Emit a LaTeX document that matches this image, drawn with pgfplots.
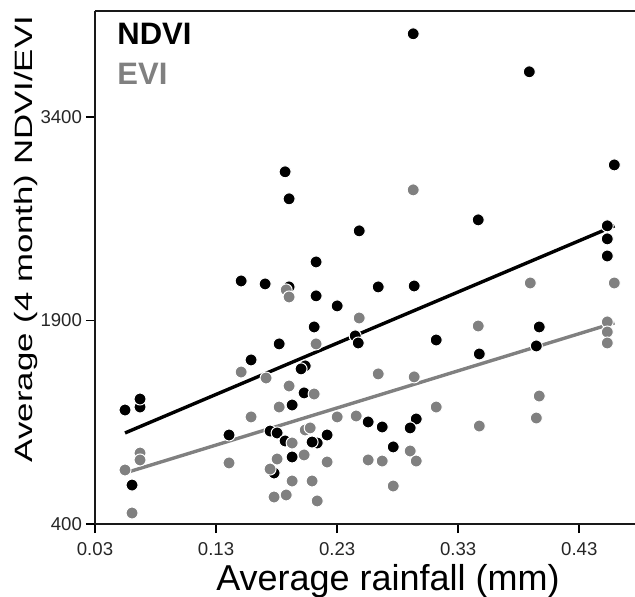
\documentclass[border=0pt]{standalone}
\usepackage{pgfplots}
\pgfplotsset{compat=1.18}
\usepackage{fontspec}
\setmainfont{Liberation Sans}
\definecolor{evigray}{RGB}{128,128,128}

\begin{document}
\begin{tikzpicture}
  \useasboundingbox (-47.5pt,-36pt) rectangle (270pt,262pt);
  \begin{axis}[
      scale only axis,
      width=270pt, height=256.5pt,
      xmin=0.03, xmax=0.476,
      ymin=400, ymax=4180,
      axis x line=box, axis y line=left,
      axis line style={-, line width=1pt, black!90},
      xtick pos=bottom, ytick pos=left,
      tick align=outside,
      major tick length=4.5pt,
      major tick style={black, line width=0.9pt},
      xtick={0.03,0.13,0.23,0.33,0.43},
      xticklabels={0.03,0.13,0.23,0.33,0.43},
      ytick={400,1900,3400},
      /pgf/number format/1000 sep={},
      /pgf/number format/assume math mode=true,
      tick label style={font=\fontsize{9.3}{10}\selectfont, text=black!85},
      yticklabel style={xshift=1.5pt},
      xticklabel style={yshift=-1pt},
      xlabel={Average rainfall (mm)},
      ylabel={Average (4 month) NDVI/EVI},
      xlabel style={font=\fontsize{18}{21}\selectfont,
        at={(axis description cs:0.5426,-0.1287)}, anchor=base},
      ylabel style={font=\fontsize{17.4}{21}\selectfont,
        at={(axis description cs:-0.127,0.5556)}, anchor=center, yscale=0.72},
      clip=false,
    ]
    % NDVI
    \addplot[only marks, mark=*, mark size=3pt,
      mark options={fill=black, draw=white, line width=0.5pt}] coordinates {
      (0.187,2995) (0.1903,2796) (0.2482,2560) (0.2126,2331) (0.1507,2191)
      (0.1705,2169) (0.1903,2147) (0.2126,2081) (0.2300,2007) (0.2110,1852)
      (0.2449,1786) (0.2474,1734) (0.1821,1727) (0.1589,1609) (0.2036,1565)
      (0.2002,1543) (0.2027,1366) (0.1928,1277) (0.0548,1240) (0.0672,1262)
      (0.0672,1321) (0.1407,1056) (0.1746,1085) (0.1804,1071) (0.1870,1012)
      (0.2217,1056) (0.2135,997) (0.2093,1004) (0.0606,687) (0.1928,894)
      (0.1779,776) (0.2928,4012) (0.3887,3732) (0.4589,3046) (0.3465,2641)
      (0.4531,2597) (0.4531,2501) (0.4531,2375) (0.2639,2147) (0.2936,2154)
      (0.3118,1756) (0.3969,1852) (0.3945,1712) (0.3474,1653) (0.2556,1152)
      (0.2672,1115) (0.2953,1174) (0.2903,1108) (0.2763,968)
    };
    % EVI
    \addplot[only marks, mark=*, mark size=3pt,
      mark options={fill=evigray, draw=white, line width=0.5pt}] coordinates {
      (0.2928,2862) (0.3895,2176) (0.4589,2176) (0.1879,2125) (0.1903,2073)
      (0.2482,1918) (0.2126,1727) (0.1507,1520) (0.1713,1476) (0.1903,1417)
      (0.2110,1358) (0.1821,1262) (0.1589,1189) (0.2036,1093) (0.2077,1108)
      (0.1928,997) (0.2300,1189) (0.2457,1196) (0.0672,923) (0.0672,872)
      (0.0548,798) (0.0606,481) (0.1407,850) (0.1804,879) (0.2027,909)
      (0.2217,857) (0.1746,805) (0.1928,717) (0.2093,717) (0.1779,599)
      (0.1879,614) (0.2135,570) (0.2556,872) (0.3465,1859) (0.4531,1889)
      (0.4531,1815) (0.4531,1734) (0.2639,1506) (0.2936,1484) (0.3118,1262)
      (0.3969,1343) (0.3945,1181) (0.3474,1122) (0.2903,938) (0.2953,864)
      (0.2672,864) (0.2763,680)
    };
    % fitted lines
    \addplot[black, line width=1.7pt] coordinates {(0.0548,1071) (0.459,2597)};
    \addplot[evigray, line width=1.7pt] coordinates {(0.0548,776) (0.459,1882)};
    \node[anchor=north west, inner sep=0pt, font=\fontsize{15.5}{18}\selectfont\bfseries]
      at ([xshift=11pt,yshift=-6pt]rel axis cs:0,1) {NDVI};
    \node[anchor=north west, inner sep=0pt, text=evigray, font=\fontsize{15.5}{18}\selectfont\bfseries]
      at ([xshift=11pt,yshift=-26pt]rel axis cs:0,1) {EVI};
  \end{axis}
\end{tikzpicture}
\end{document}
